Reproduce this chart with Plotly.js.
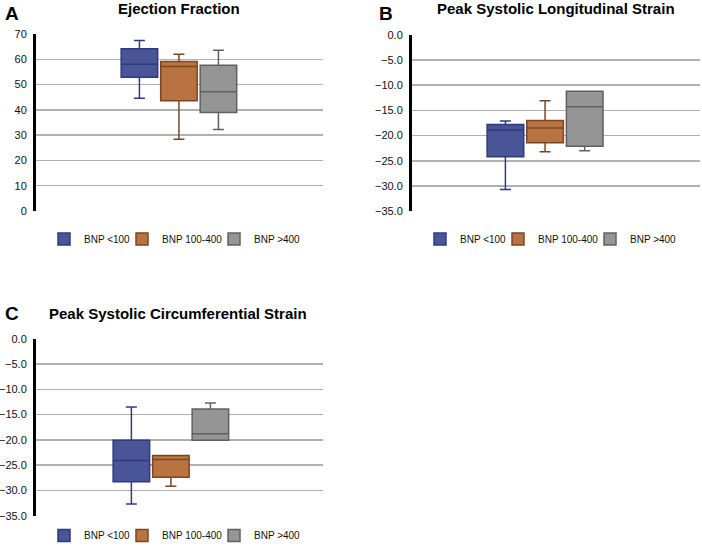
<!DOCTYPE html>
<html>
<head>
<meta charset="utf-8">
<script src="https://cdn.plot.ly/plotly-3.0.1.min.js"></script>
<style>html,body{margin:0;padding:0;background:#fff;overflow:hidden}#chart{width:702px;height:550px}</style>
</head>
<body>
<div id="chart"></div>
<script>
// ---- data ----
const groups = ['BNP <100', 'BNP 100-400', 'BNP >400'];
const category = ['BNP'];

// Panel A: Ejection Fraction
const efLower  = [44.6, 28.4, 32.2];
const efQ1     = [52.9, 43.6, 39.0];
const efMedian = [58.0, 57.1, 47.2];
const efQ3     = [64.2, 59.1, 57.6];
const efUpper  = [67.4, 62.0, 63.6];

// Panel B: Peak Systolic Longitudinal Strain
const lsLower  = [-30.7, -23.2, -23.0];
const lsQ1     = [-24.2, -21.4, -22.1];
const lsMedian = [-18.9, -18.5, -14.3];
const lsQ3     = [-17.8, -17.0, -11.2];
const lsUpper  = [-17.1, -13.1, -11.2];

// Panel C: Peak Systolic Circumferential Strain
const csLower  = [-32.7, -29.2, -20.1];
const csQ1     = [-28.3, -27.4, -20.1];
const csMedian = [-24.1, -23.9, -18.8];
const csQ3     = [-20.1, -23.1, -13.9];
const csUpper  = [-13.5, -23.1, -12.7];

// ---- styles ----
const fills = ['#4a5597', '#b87340', '#959595'];
const lines = ['#2f3a80', '#7a4726', '#606060'];
const legendWidths = [33, 47, 50];

// ---- build traces ----
const panels = [
  {lo: efLower, q1: efQ1, md: efMedian, q3: efQ3, up: efUpper, xa: 'x',  ya: 'y',  lg: 'legend'},
  {lo: lsLower, q1: lsQ1, md: lsMedian, q3: lsQ3, up: lsUpper, xa: 'x2', ya: 'y2', lg: 'legend2'},
  {lo: csLower, q1: csQ1, md: csMedian, q3: csQ3, up: csUpper, xa: 'x3', ya: 'y3', lg: 'legend3'}
];
const traces = [];
panels.forEach(p => {
  groups.forEach((g, i) => {
    traces.push({
      type: 'box', name: g, x: category,
      lowerfence: [p.lo[i]], q1: [p.q1[i]], median: [p.md[i]], q3: [p.q3[i]], upperfence: [p.up[i]],
      xaxis: p.xa, yaxis: p.ya, legend: p.lg, offsetgroup: String(i),
      fillcolor: fills[i], line: {color: lines[i], width: 1.5},
      whiskerwidth: 0.3, boxpoints: false, hoverinfo: 'skip',
      legendwidth: legendWidths[i]
    });
  });
});

const W = 702, H = 550;
const fx = px => px / W;
const fy = py => 1 - py / H;
const font = 'Liberation Sans, Arial, sans-serif';

function yax(domain, range, fmt, dtick, anchor) {
  return {
    domain: domain, range: range, dtick: dtick, tickformat: fmt, anchor: anchor,
    showline: true, linecolor: '#000', linewidth: 3,
    showgrid: true, gridcolor: '#b0b0b0', gridwidth: 1.5,
    zeroline: false, ticks: '', ticklabelstandoff: 4,
    tickfont: {family: font, size: 11, color: '#111'}, fixedrange: true
  };
}
function xax(domain, range, anchor) {
  return {
    domain: domain, range: range, type: 'category', anchor: anchor,
    showline: false, showgrid: false, zeroline: false, showticklabels: false, ticks: '', fixedrange: true
  };
}
function leg(x, y) {
  return {
    orientation: 'h', x: x, y: y, xanchor: 'left', yanchor: 'middle',
    font: {family: font, size: 10, color: '#111'}, bgcolor: 'rgba(0,0,0,0)', itemwidth: 30
  };
}
function ann(text, x, y, size) {
  return {text: '<b>' + text + '</b>', x: x, y: y, xref: 'paper', yref: 'paper',
    xanchor: 'center', yanchor: 'middle', showarrow: false,
    font: {family: font, size: size, color: '#000'}};
}

const layout = {
  width: W, height: H, margin: {l: 0, r: 0, t: 0, b: 0},
  paper_bgcolor: '#fff', plot_bgcolor: '#fff',
  boxmode: 'group', boxgap: 0.587, boxgroupgap: 0.076,
  xaxis:  xax([fx(36), fx(323)], [-0.498, 0.502], 'y'),
  yaxis:  yax([fy(211), fy(34)], [0, 70], 'd', 10, 'x'),
  xaxis2: xax([fx(412), fx(700)], [-0.462, 0.538], 'y2'),
  yaxis2: yax([fy(211.3), fy(34.7)], [-35, 0], '.1f', 5, 'x2'),
  xaxis3: xax([fx(36), fx(323)], [-0.470, 0.530], 'y3'),
  yaxis3: yax([fy(515.7), fy(338.7)], [-35, 0], '.1f', 5, 'x3'),
  legend:  leg(fx(44), fy(239)),
  legend2: leg(fx(420), fy(239)),
  legend3: Object.assign(leg(fx(44), 0), {yanchor: 'bottom'}),
  annotations: [
    ann('A', fx(12), fy(13), 19),
    ann('Ejection Fraction', fx(179), fy(9), 15),
    ann('B', fx(386), fy(13), 19),
    ann('Peak Systolic Longitudinal Strain', fx(556), fy(9), 15),
    ann('C', fx(12), fy(313), 19),
    ann('Peak Systolic Circumferential Strain', fx(178), fy(313), 15)
  ],
  showlegend: true
};

Plotly.newPlot('chart', traces, layout, {displayModeBar: false, staticPlot: true});
</script>
</body>
</html>
